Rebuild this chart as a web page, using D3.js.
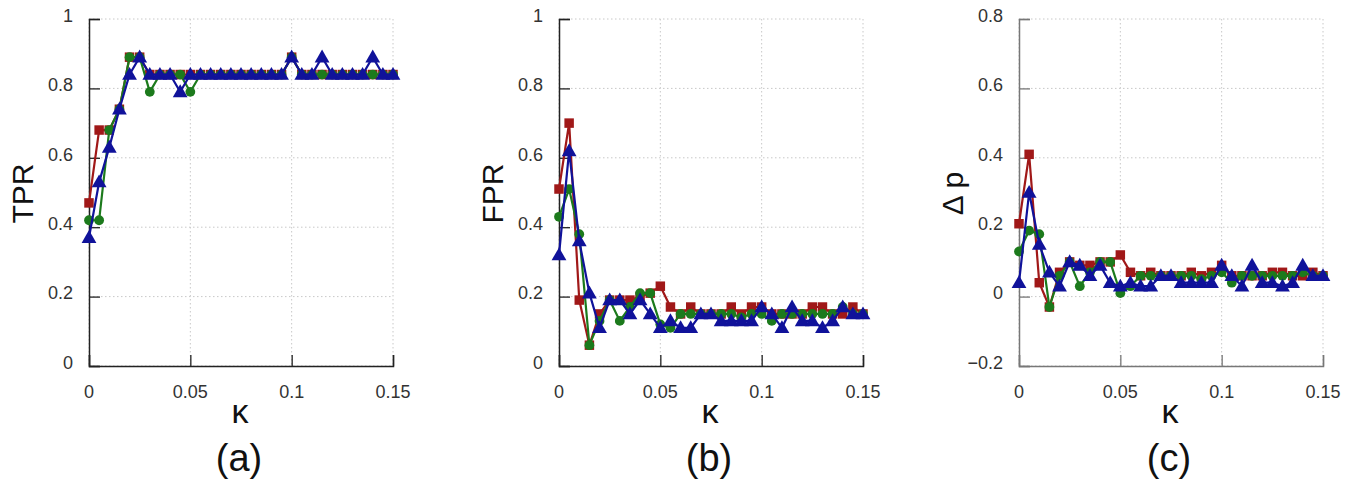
<!DOCTYPE html>
<html>
<head>
<meta charset="utf-8">
<script src="https://cdn.jsdelivr.net/npm/d3@7.9.0/dist/d3.min.js"></script>
<style>
  body { margin: 0; background: #fff; }
  svg { display: block; font-family: "Liberation Sans", Arial, sans-serif; }
  .grid line { stroke: #c8c8c8; stroke-dasharray: 1.5 2.5; }
  .tick-label { fill: #333; font-size: 18px; }
</style>
</head>
<body>
<svg id="chart" width="1359" height="483"></svg>
<script>
const kappa = [0, 0.005, 0.01, 0.015, 0.02, 0.025, 0.03, 0.035, 0.04, 0.045, 0.05,
  0.055, 0.06, 0.065, 0.07, 0.075, 0.08, 0.085, 0.09, 0.095, 0.1,
  0.105, 0.11, 0.115, 0.12, 0.125, 0.13, 0.135, 0.14, 0.145, 0.15];

// (a) TPR
const tprRed = [0.47, 0.68, 0.68, 0.74, 0.89, 0.89, 0.84, 0.84, 0.84, 0.84, 0.84,
  0.84, 0.84, 0.84, 0.84, 0.84, 0.84, 0.84, 0.84, 0.84, 0.89,
  0.84, 0.84, 0.84, 0.84, 0.84, 0.84, 0.84, 0.84, 0.84, 0.84];
const tprGreen = [0.42, 0.42, 0.68, 0.74, 0.89, 0.89, 0.79, 0.84, 0.84, 0.84, 0.79,
  0.84, 0.84, 0.84, 0.84, 0.84, 0.84, 0.84, 0.84, 0.84, 0.89,
  0.84, 0.84, 0.84, 0.84, 0.84, 0.84, 0.84, 0.84, 0.84, 0.84];
const tprBlue = [0.37, 0.53, 0.63, 0.74, 0.84, 0.89, 0.84, 0.84, 0.84, 0.79, 0.84,
  0.84, 0.84, 0.84, 0.84, 0.84, 0.84, 0.84, 0.84, 0.84, 0.89,
  0.84, 0.84, 0.89, 0.84, 0.84, 0.84, 0.84, 0.89, 0.84, 0.84];

// (b) FPR
const fprRed = [0.51, 0.70, 0.19, 0.06, 0.15, 0.19, 0.19, 0.19, 0.20, 0.21, 0.23,
  0.17, 0.15, 0.17, 0.15, 0.15, 0.15, 0.17, 0.15, 0.17, 0.17,
  0.15, 0.15, 0.15, 0.15, 0.17, 0.17, 0.15, 0.15, 0.17, 0.15];
const fprGreen = [0.43, 0.51, 0.38, 0.06, 0.13, 0.19, 0.13, 0.17, 0.21, 0.21, 0.12,
  0.11, 0.15, 0.15, 0.15, 0.15, 0.15, 0.15, 0.14, 0.15, 0.15,
  0.13, 0.15, 0.15, 0.15, 0.15, 0.15, 0.15, 0.17, 0.15, 0.15];
const fprBlue = [0.32, 0.62, 0.36, 0.21, 0.11, 0.19, 0.19, 0.15, 0.19, 0.15, 0.11,
  0.13, 0.11, 0.11, 0.15, 0.15, 0.13, 0.13, 0.13, 0.13, 0.17,
  0.15, 0.11, 0.17, 0.13, 0.13, 0.11, 0.13, 0.17, 0.15, 0.15];

// (c) delta p
const dpRed = [0.21, 0.41, 0.04, -0.03, 0.07, 0.10, 0.09, 0.09, 0.10, 0.10, 0.12,
  0.07, 0.06, 0.07, 0.06, 0.06, 0.06, 0.07, 0.06, 0.07, 0.09,
  0.06, 0.06, 0.06, 0.06, 0.07, 0.07, 0.06, 0.06, 0.07, 0.06];
const dpGreen = [0.13, 0.19, 0.18, -0.03, 0.06, 0.10, 0.03, 0.07, 0.10, 0.10, 0.01,
  0.03, 0.06, 0.06, 0.06, 0.06, 0.06, 0.06, 0.05, 0.06, 0.07,
  0.04, 0.06, 0.06, 0.06, 0.06, 0.06, 0.06, 0.07, 0.06, 0.06];
const dpBlue = [0.04, 0.30, 0.15, 0.07, 0.03, 0.10, 0.09, 0.06, 0.09, 0.04, 0.03,
  0.04, 0.03, 0.03, 0.06, 0.06, 0.04, 0.04, 0.04, 0.04, 0.09,
  0.06, 0.03, 0.09, 0.04, 0.04, 0.03, 0.04, 0.09, 0.06, 0.06];

const xTicks = [0, 0.05, 0.1, 0.15];
const rateTicks = [0, 0.2, 0.4, 0.6, 0.8, 1];
const dpTicks = [-0.2, 0, 0.2, 0.4, 0.6, 0.8];

const panels = [
  { left: 89, label: 'TPR', tag: '(a)', ticks: rateTicks, series: [tprRed, tprGreen, tprBlue], axisColor: '#222' },
  { left: 559, label: 'FPR', tag: '(b)', ticks: rateTicks, series: [fprRed, fprGreen, fprBlue], axisColor: '#222' },
  { left: 1019, label: 'Δ p', tag: '(c)', ticks: dpTicks, series: [dpRed, dpGreen, dpBlue], axisColor: '#777' },
];

const colors = ['#a01818', '#1c7a1c', '#10129a'];
const symbols = [d3.symbolSquare, d3.symbolCircle, d3.symbolTriangle];
const symbolSizes = [90, 75, 95];

const plotTop = 19, plotBottom = 366, plotWidth = 304, tickLen = 11;
const svg = d3.select('#chart');
const fmt = (d) => d3.format('~g')(d);

panels.forEach((p) => {
  const x = d3.scaleLinear().domain([0, 0.15]).range([p.left, p.left + plotWidth]);
  const y = d3.scaleLinear().domain(d3.extent(p.ticks)).range([plotBottom, plotTop]);
  const g = svg.append('g');

  // dotted grid
  const grid = g.append('g').attr('class', 'grid');
  grid.selectAll('line.h').data(p.ticks).join('line')
    .attr('class', 'h')
    .attr('x1', p.left).attr('x2', p.left + plotWidth)
    .attr('y1', (d) => y(d)).attr('y2', (d) => y(d));
  grid.selectAll('line.v').data(xTicks).join('line')
    .attr('class', 'v')
    .attr('x1', (d) => x(d)).attr('x2', (d) => x(d))
    .attr('y1', plotTop).attr('y2', plotBottom);

  // axes with inward ticks
  const yAxis = g.append('g')
    .attr('transform', `translate(${p.left},0)`)
    .call(d3.axisRight(y).tickValues(p.ticks).tickSize(tickLen).tickFormat(''));
  const xAxis = g.append('g')
    .attr('transform', `translate(0,${plotBottom})`)
    .call(d3.axisTop(x).tickValues(xTicks).tickSize(tickLen).tickFormat(''));
  [yAxis, xAxis].forEach((a) => {
    a.select('.domain').attr('stroke', p.axisColor).attr('stroke-width', 1.5);
    a.selectAll('.tick line').attr('stroke', p.axisColor).attr('stroke-width', 1.3);
  });

  // tick labels
  g.selectAll('text.yl').data(p.ticks).join('text')
    .attr('class', 'tick-label yl')
    .attr('x', p.left - 16).attr('y', (d) => y(d) - 2)
    .attr('text-anchor', 'end').attr('dominant-baseline', 'middle')
    .text(fmt);
  g.selectAll('text.xl').data(xTicks).join('text')
    .attr('class', 'tick-label xl')
    .attr('x', (d) => x(d)).attr('y', 398)
    .attr('text-anchor', 'middle')
    .text(fmt);

  // titles
  g.append('text')
    .attr('transform', `translate(${p.left - 64},${(plotTop + plotBottom) / 2 + 1}) rotate(-90)`)
    .attr('text-anchor', 'middle').attr('dominant-baseline', 'middle')
    .attr('font-size', 30).attr('fill', '#111')
    .text(p.label);
  g.append('text')
    .attr('x', p.left + plotWidth / 2 - 1).attr('y', 423)
    .attr('text-anchor', 'middle')
    .attr('font-size', 34).attr('fill', '#111')
    .text('κ');
  g.append('text')
    .attr('x', p.left + plotWidth / 2 - 2).attr('y', 471)
    .attr('text-anchor', 'middle')
    .attr('font-size', 38).attr('fill', '#111')
    .text(p.tag);

  // series lines + markers
  const line = d3.line().x((_d, i) => x(kappa[i])).y((d) => y(d));
  p.series.forEach((values, si) => {
    g.append('path')
      .attr('d', line(values))
      .attr('fill', 'none')
      .attr('stroke', colors[si])
      .attr('stroke-width', 2.2);
    g.selectAll(`path.m${si}`).data(values).join('path')
      .attr('class', `m${si}`)
      .attr('transform', (d, i) => `translate(${x(kappa[i])},${y(d) + (si === 2 ? 1 : 0)})`)
      .attr('d', d3.symbol().type(symbols[si]).size(symbolSizes[si]))
      .attr('fill', colors[si]);
  });
});
</script>
</body>
</html>
